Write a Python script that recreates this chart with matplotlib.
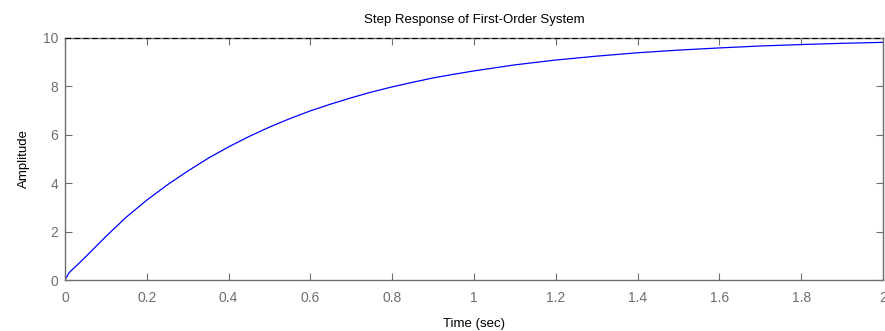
import matplotlib
matplotlib.use("Agg")
import matplotlib.pyplot as plt

# values
time_s = [0.0, 0.01, 0.05, 0.1, 0.15, 0.2, 0.25, 0.3, 0.35, 0.4, 0.45, 0.5,
          0.55, 0.6, 0.65, 0.7, 0.75, 0.8, 0.85, 0.9, 0.95, 1.0, 1.1, 1.2,
          1.3, 1.4, 1.5, 1.6, 1.7, 1.8, 1.9, 2.0]
amplitude = [0.0, 0.3, 0.95, 1.8, 2.6, 3.3, 3.93, 4.5, 5.03, 5.5, 5.93, 6.32,
             6.67, 6.99, 7.27, 7.53, 7.77, 7.98, 8.17, 8.35, 8.5, 8.64, 8.89, 9.09,
             9.25, 9.39, 9.5, 9.59, 9.67, 9.73, 9.78, 9.82]
final_value = 10.0

x_ticks = [0, 0.2, 0.4, 0.6, 0.8, 1, 1.2, 1.4, 1.6, 1.8, 2]
x_labels = ["0", "0.2", "0.4", "0.6", "0.8", "1", "1.2", "1.4", "1.6", "1.8", "2"]
y_ticks = [0, 2, 4, 6, 8, 10]

plt.rcParams["font.family"] = ["Liberation Sans", "DejaVu Sans"]

fig = plt.figure(figsize=(8.85, 3.31), dpi=100)
ax = fig.add_axes([65 / 885, 1 - 280 / 331, 818 / 885, 242 / 331])

ax.plot(time_s, amplitude, color="#0000ff", lw=0.9)
ax.axhline(final_value, color="black", ls=(0, (5, 3)), lw=0.8,
           zorder=5, clip_on=False)

ax.set_xlim(0, 2)
ax.set_ylim(0, 10)
ax.set_xticks(x_ticks)
ax.set_xticklabels(x_labels)
ax.set_yticks(y_ticks)

gray = "#6e6e6e"
for sp in ax.spines.values():
    sp.set_color(gray)
    sp.set_linewidth(1.0)
ax.tick_params(direction="in", length=5, width=0.8, colors=gray,
               labelsize=10, top=True, right=True)
ax.tick_params(axis="x", pad=8)
ax.tick_params(axis="y", pad=5)

ax.set_title("Step Response of First-Order System", fontsize=9.5, pad=11)
ax.set_xlabel("Time (sec)", fontsize=9.5, labelpad=9)
ax.set_ylabel("Amplitude", fontsize=9.5, labelpad=9)

fig.savefig("out.png", dpi=100)
